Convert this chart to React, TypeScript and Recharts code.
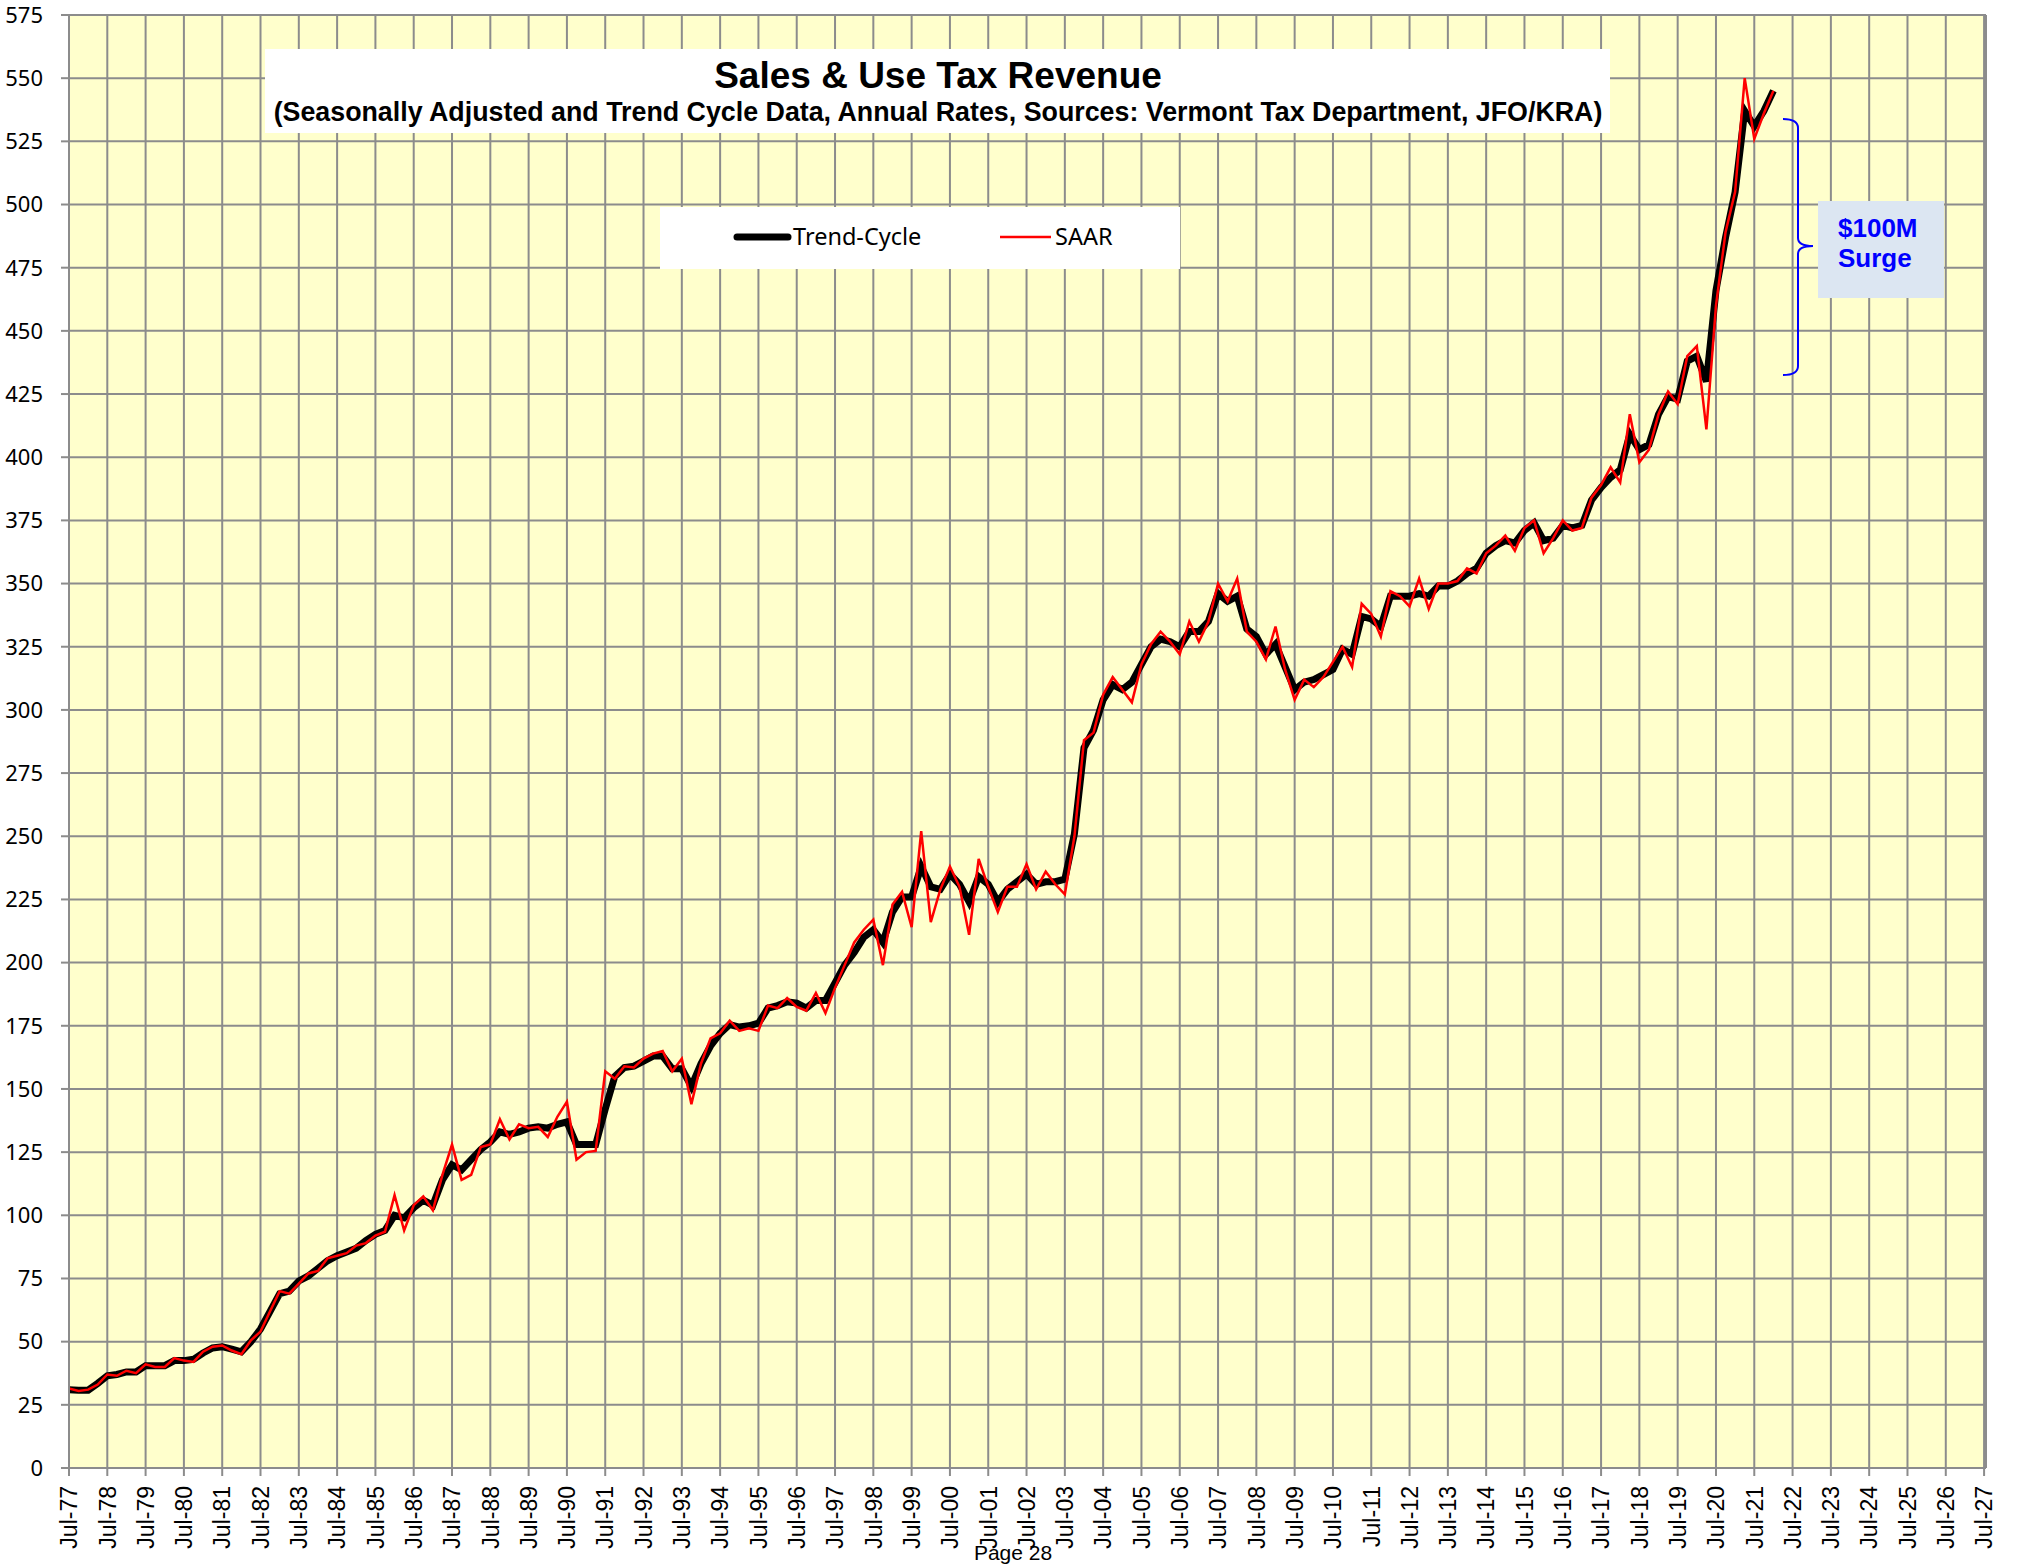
import { CartesianGrid, Line, LineChart, XAxis, YAxis } from 'recharts'

// quarterly values, $ millions, starting Jul-77
const trend = [
  31, 30.8, 30.8, 33.5, 36.5, 37, 38, 38, 40.5, 40.5, 40.5, 42.5, 42.5, 43, 45.5, 47.5,
  48, 47, 46, 50, 55, 62, 69, 70, 74, 76, 79, 82, 84, 85.5, 87, 90,
  92.5, 94, 100, 99, 103, 106, 104, 114, 120, 118, 122, 126, 129, 133, 132, 133,
  134.5, 135, 134.5, 136, 137, 128, 128, 128, 142, 155, 158.5, 159, 161, 163, 163, 158,
  158, 151, 160, 167, 172, 175.5, 174.5, 175, 176, 182, 183, 184.5, 184, 182, 185, 185,
  192, 199, 204, 210, 213, 208, 220, 226, 226, 238, 230, 229, 235, 231, 224, 234,
  231, 224, 229, 232, 235, 231, 232, 232, 233, 251, 285, 292, 304, 310, 308, 311,
  318, 325, 328, 327, 325, 331, 331, 335, 346, 343, 345, 332, 329, 322, 326, 317,
  308, 311, 312, 314, 316, 324, 322, 337, 336, 333, 345, 345, 345, 346, 345, 349,
  349, 351, 354, 356, 362, 365, 367, 366, 371, 374, 367, 368, 373, 372, 373, 383,
  388, 392, 395, 409, 403, 405, 417, 424, 423, 438, 440, 430, 466, 487, 505, 537,
  531, 537, 545,
]

const saar = [
  31.5, 30.5, 31, 33, 37, 36.5, 38.5, 37.5, 41, 40, 40, 43.5, 42.5, 42, 46, 48,
  48.5, 46.5, 45, 50.5, 54, 62, 70, 69, 73, 77, 78, 83, 84, 85, 88, 89,
  92, 93.5, 108, 94, 104, 107.5, 102, 116, 128, 114, 116, 127, 128, 138, 130, 136,
  134.5, 135, 131, 139, 145, 122, 125, 125.5, 157, 154, 159, 158.5, 162, 164, 165, 157,
  162, 144, 160, 170, 172, 177, 173, 174, 173, 183, 182, 186, 182.5, 181, 188, 180,
  190, 199, 208, 213, 217, 199, 223, 228, 214, 252, 216, 229, 238, 230, 211, 241,
  230, 220, 230, 230, 239, 229, 236, 231, 227, 250, 288, 291, 306, 313, 308, 303,
  318, 326, 331, 327, 322, 335, 327, 335, 350, 343, 352, 331, 327, 320, 333, 316,
  304, 312, 309, 313, 319, 325, 317, 342, 338, 329, 347, 345, 341, 352, 340, 350,
  350, 351, 356, 354, 362, 365, 369, 363, 372, 375, 362, 368, 375, 371, 372, 384,
  389, 396, 390, 417, 398, 403, 417, 426, 421, 440, 444, 411, 460, 489, 505, 550,
  526, 536, 545,
]

const yearLabels = [
  'Jul-77', 'Jul-78', 'Jul-79', 'Jul-80', 'Jul-81', 'Jul-82', 'Jul-83', 'Jul-84', 'Jul-85',
  'Jul-86', 'Jul-87', 'Jul-88', 'Jul-89', 'Jul-90', 'Jul-91', 'Jul-92', 'Jul-93', 'Jul-94',
  'Jul-95', 'Jul-96', 'Jul-97', 'Jul-98', 'Jul-99', 'Jul-00', 'Jul-01', 'Jul-02', 'Jul-03',
  'Jul-04', 'Jul-05', 'Jul-06', 'Jul-07', 'Jul-08', 'Jul-09', 'Jul-10', 'Jul-11', 'Jul-12',
  'Jul-13', 'Jul-14', 'Jul-15', 'Jul-16', 'Jul-17', 'Jul-18', 'Jul-19', 'Jul-20', 'Jul-21',
  'Jul-22', 'Jul-23', 'Jul-24', 'Jul-25', 'Jul-26', 'Jul-27',
]

const valueTicks = [
  0, 25, 50, 75, 100, 125, 150, 175, 200, 225, 250, 275, 300, 325, 350, 375, 400, 425, 450,
  475, 500, 525, 550, 575,
]

const START = 1977.5
const yearTicks = yearLabels.map((_, i) => START + i)
const rows = trend.map((v, i) => ({ t: START + i * 0.25, trend: v, saar: saar[i] }))

const GRID = '#8c8c8c'
const ARIAL = '"Liberation Sans", Arial, sans-serif'
const SANS = '"Noto Sans", "Open Sans", sans-serif'

function YearTick(props: any) {
  const { x, y, payload } = props
  const label = yearLabels[Math.round(payload.value - START)]
  return (
    <text
      x={x}
      y={y}
      dy="0.36em"
      transform={`rotate(-90 ${x} ${y})`}
      textAnchor="end"
      fontFamily={ARIAL}
      fontSize={23}
      fill="#000"
    >
      {label}
    </text>
  )
}

function Overlay() {
  return (
    <svg
      width={2028}
      height={1567}
      style={{ position: 'absolute', left: 0, top: 0, pointerEvents: 'none' }}
    >
      {/* title */}
      <rect x={265} y={49} width={1345} height={84} fill="#fff" />
      <text x={938} y={88} textAnchor="middle" fontFamily={ARIAL} fontWeight="bold" fontSize={37}>
        Sales &amp; Use Tax Revenue
      </text>
      <text x={938} y={121} textAnchor="middle" fontFamily={ARIAL} fontWeight="bold" fontSize={26.8}>
        (Seasonally Adjusted and Trend Cycle Data, Annual Rates, Sources: Vermont Tax Department, JFO/KRA)
      </text>

      {/* legend */}
      <rect x={660} y={207} width={520} height={62} fill="#fff" />
      <line x1={737} y1={237} x2={788} y2={237} stroke="#000" strokeWidth={7} strokeLinecap="round" />
      <text x={793} y={245} fontFamily={SANS} fontSize={23.5}>Trend-Cycle</text>
      <line x1={1000} y1={237} x2={1051} y2={237} stroke="#ff0000" strokeWidth={2.5} />
      <text x={1055} y={245} fontFamily={SANS} fontSize={23.5}>SAAR</text>

      {/* surge bracket */}
      <path
        d="M1783,119 Q1798,119 1798,128 L1798,238 Q1798,246 1813,246 Q1798,246 1798,254 L1798,366 Q1798,375 1783,375"
        fill="none"
        stroke="#0000ff"
        strokeWidth={2}
      />
      <rect x={1818} y={201} width={126} height={97} fill="#dce6f2" />
      <text x={1838} y={237} fontFamily={ARIAL} fontWeight="bold" fontSize={26} fill="#0000ff">$100M</text>
      <text x={1838} y={267} fontFamily={ARIAL} fontWeight="bold" fontSize={26} fill="#0000ff">Surge</text>

      <text x={1013} y={1560} textAnchor="middle" fontFamily={ARIAL} fontSize={21}>Page 28</text>
    </svg>
  )
}

export default function App() {
  return (
    <div style={{ position: 'absolute', left: 0, top: 0, width: 2028, height: 1567, background: '#fff' }}>
      <LineChart width={2028} height={1567} data={rows} margin={{ top: 15, right: 0, bottom: 0, left: 0 }}>
        <CartesianGrid yAxisId="left" fill="#ffffcc" stroke={GRID} strokeWidth={2} />
        <XAxis
          dataKey="t"
          type="number"
          scale="linear"
          domain={[START, 2027.55]}
          ticks={yearTicks}
          interval={0}
          allowDataOverflow
          height={99}
          tickSize={8}
          tickMargin={10}
          stroke={GRID}
          strokeWidth={2}
          tick={<YearTick />}
        />
        <YAxis
          yAxisId="left"
          domain={[0, 575]}
          ticks={valueTicks}
          interval={0}
          width={69}
          tickSize={8}
          tickMargin={18}
          stroke={GRID}
          strokeWidth={2}
          tick={{ fontSize: 22, fill: '#000', fontFamily: SANS }}
        />
        <YAxis
          yAxisId="right"
          orientation="right"
          domain={[0, 575]}
          ticks={valueTicks}
          interval={0}
          width={42}
          tickSize={10}
          tickMargin={16}
          stroke={GRID}
          strokeWidth={2}
          tick={{ fontSize: 22, fill: '#000', fontFamily: SANS, textAnchor: 'start' }}
        />
        <Line
          yAxisId="left"
          type="linear"
          dataKey="trend"
          stroke="#000"
          strokeWidth={7}
          dot={false}
          isAnimationActive={false}
        />
        <Line
          yAxisId="left"
          type="linear"
          dataKey="saar"
          stroke="#ff0000"
          strokeWidth={2.5}
          dot={false}
          isAnimationActive={false}
        />
      </LineChart>
      <Overlay />
    </div>
  )
}
